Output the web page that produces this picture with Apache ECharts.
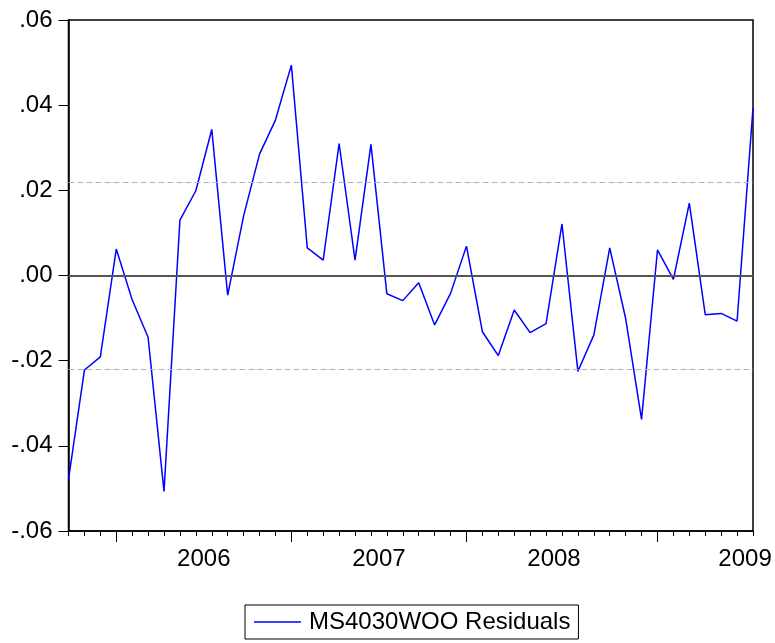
<!DOCTYPE html>
<html>
<head>
<meta charset="utf-8">
<script src="https://cdn.jsdelivr.net/npm/echarts@6/dist/echarts.min.js"></script>
<style>
html,body{margin:0;padding:0;background:#fff;}
#chart{width:775px;height:643px;}
</style>
</head>
<body>
<div id="chart"></div>
<script>
// Observation labels (44 consecutive observations)
const observations = ["1","2","3","4","5","6","7","8","9","10","11","12","13","14","15","16","17","18","19","20","21","22","23","24","25","26","27","28","29","30","31","32","33","34","35","36","37","38","39","40","41","42","43","44"];

// MS4030WOO residuals
const residuals = [
  -0.0479, -0.0222, -0.0191, 0.0062, -0.0057, -0.0145, -0.0507, 0.0130, 0.0199, 0.0343,
  -0.0046, 0.0140, 0.0285, 0.0365, 0.0494, 0.0065, 0.0036, 0.0310, 0.0036, 0.0308,
  -0.0043, -0.0059, -0.0017, -0.0116, -0.0042, 0.0069, -0.0132, -0.0188, -0.0081, -0.0134,
  -0.0113, 0.0121, -0.0225, -0.0140, 0.0065, -0.0101, -0.0338, 0.0060, -0.0009, 0.0170,
  -0.0092, -0.0089, -0.0107, 0.0393
];

// Reference lines
const zeroLine = 0;
const bandLines = [0.022, -0.022];

// Axis tick labels
const yearLabels = ["2006", "2007", "2008", "2009"];
const yearLabelSlots = [8, 19, 30, 42];     // interval (between observations) where each year label is centred
const majorTickObs = [3, 14, 25, 37];       // observations carrying a long tick

const seriesName = "MS4030WOO Residuals";

const slots = [];
for (let k = 0; k < observations.length - 1; k++) slots.push("s" + k);

const FONT = "Liberation Sans, Arial, sans-serif";
const chart = echarts.init(document.getElementById("chart"));
chart.setOption({
  animation: false,
  backgroundColor: "#fff",
  grid: {
    left: 68.5, right: 22, top: 20, bottom: 112,
    show: true, borderColor: "#000", borderWidth: 1.5
  },
  xAxis: [
    {
      type: "category", data: observations, boundaryGap: false, position: "bottom", offset: 0,
      axisLine: { show: true, onZero: false, lineStyle: { color: "#000", width: 1.5 } },
      axisTick: { show: true, interval: 0, length: 5, lineStyle: { color: "#000", width: 1 } },
      axisLabel: { show: false, interval: 0 },
      splitLine: { show: false }
    },
    {
      type: "category", data: observations, boundaryGap: false, position: "bottom", offset: 0,
      axisLine: { show: false, onZero: false },
      axisTick: { show: true, interval: (i) => majorTickObs.indexOf(i) >= 0, length: 11, lineStyle: { color: "#000", width: 1 } },
      axisLabel: { show: false },
      splitLine: { show: false }
    },
    {
      type: "category", data: slots, boundaryGap: true, position: "bottom", offset: 0,
      axisLine: { show: false, onZero: false },
      axisTick: { show: false },
      axisLabel: {
        show: true, interval: 0, margin: 16,
        fontFamily: FONT, fontSize: 24, color: "#000",
        formatter: (v, i) => { const p = yearLabelSlots.indexOf(i); return p >= 0 ? yearLabels[p] : ""; }
      },
      splitLine: { show: false }
    }
  ],
  yAxis: {
    type: "value", min: -0.06, max: 0.06, interval: 0.02,
    axisLine: { show: true, onZero: false, lineStyle: { color: "#000", width: 1.5 } },
    axisTick: { show: true, length: 10, lineStyle: { color: "#000", width: 1 } },
    axisLabel: {
      margin: 16, fontFamily: FONT, fontSize: 24, color: "#000",
      formatter: (v) => { const s = Math.abs(v) < 1e-9 ? "0.00" : v.toFixed(2); return s.replace("0.", "."); }
    },
    splitLine: { show: false }
  },
  legend: {
    data: [seriesName],
    left: 245, top: 605,
    padding: [5, 8, 5, 9],
    borderColor: "#000", borderWidth: 1,
    icon: "rect",
    itemWidth: 47, itemHeight: 1.5,
    textStyle: { fontFamily: FONT, fontSize: 24, color: "#000", padding: [0, 0, 0, 3] },
    selectedMode: false
  },
  series: [
    {
      name: seriesName, type: "line", data: residuals, z: 3,
      symbol: "none", showSymbol: false,
      lineStyle: { color: "#0000ff", width: 1.5 },
      itemStyle: { color: "#0000ff" },
      markLine: {
        silent: true, symbol: "none", label: { show: false }, precision: 4,
        data: [
          { yAxis: zeroLine, lineStyle: { color: "#555", width: 2, type: "solid" } },
          { yAxis: bandLines[0], lineStyle: { color: "#b4b4b4", width: 1.2, type: [6, 3] } },
          { yAxis: bandLines[1], lineStyle: { color: "#b4b4b4", width: 1.2, type: [6, 3] } }
        ]
      }
    }
  ]
});
</script>
</body>
</html>
